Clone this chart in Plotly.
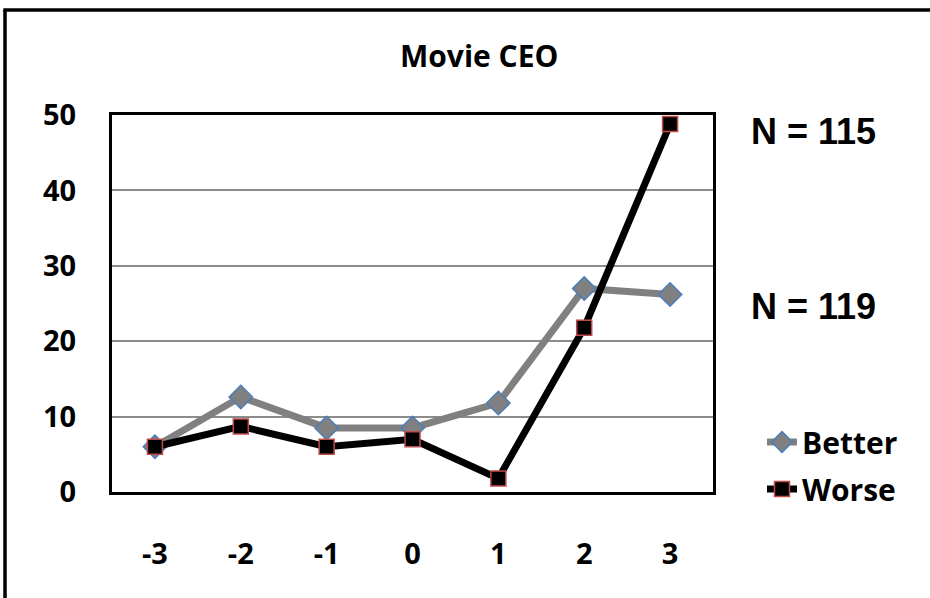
import plotly.graph_objects as go

categories = ["-3", "-2", "-1", "0", "1", "2", "3"]
better = [6.0, 12.6, 8.5, 8.5, 11.8, 27.0, 26.2]
worse = [6.0, 8.7, 6.0, 7.0, 1.8, 21.8, 48.8]
y_ticks = [0, 10, 20, 30, 40, 50]

FONT = "Open Sans"
W, H = 930, 598
L, R, T, B = 112, 713, 115, 492


def px(x):
    return (x - L) / (R - L)


def py(y):
    return (B - y) / (B - T)


fig = go.Figure()
fig.add_trace(go.Scatter(
    x=categories, y=better, name="Better", mode="lines+markers",
    line=dict(color="#808080", width=7),
    marker=dict(symbol="diamond", size=18, color="#808080",
                line=dict(color="#4a7ebb", width=1.5)),
    legendgroup="b",
))
fig.add_trace(go.Scatter(
    x=categories, y=worse, name="Worse", mode="lines+markers",
    line=dict(color="#000000", width=7),
    marker=dict(symbol="square", size=15, color="#000000",
                line=dict(color="#be4b48", width=1.5)),
    legendgroup="w",
))

fig.update_layout(
    width=W, height=H,
    margin=dict(l=L, r=W - R, t=T, b=H - B),
    paper_bgcolor="white", plot_bgcolor="white",
    font=dict(family=FONT, size=30, color="black"),
    showlegend=True,
    legend=dict(x=px(762), y=py(416), xanchor="left", yanchor="top",
                font=dict(family=FONT, size=30, color="black", weight="bold"),
                tracegroupgap=5, bgcolor="rgba(0,0,0,0)",
                traceorder="grouped"),
    xaxis=dict(type="category", range=[-0.5, 6.5], showgrid=False,
               showline=True, linecolor="black", linewidth=3, mirror=True,
               ticks="", ticklabelstandoff=34,
               tickfont=dict(family=FONT, size=29, color="black", weight="bold")),
    yaxis=dict(range=[0, 50], tickvals=y_ticks, showgrid=True,
               gridcolor="#8c8c8c", gridwidth=1.5, zeroline=False,
               showline=True, linecolor="black", linewidth=3, mirror=True,
               ticks="", ticklabelstandoff=27,
               tickfont=dict(family=FONT, size=29, color="black", weight="bold")),
)

fig.add_annotation(text="<b>Movie CEO</b>", xref="paper", yref="paper",
                   x=px(479), y=py(55), showarrow=False,
                   xanchor="center", yanchor="middle",
                   font=dict(family=FONT, size=30, color="black"))
fig.add_annotation(text="<b>N = 115</b>", xref="paper", yref="paper",
                   x=px(813), y=py(131), showarrow=False,
                   xanchor="center", yanchor="middle",
                   font=dict(family="Liberation Sans", size=36, color="black"))
fig.add_annotation(text="<b>N = 119</b>", xref="paper", yref="paper",
                   x=px(813), y=py(306), showarrow=False,
                   xanchor="center", yanchor="middle",
                   font=dict(family="Liberation Sans", size=36, color="black"))

# outer chart frame (left and top edges visible)
fig.add_shape(type="line", xref="paper", yref="paper",
              x0=px(5), x1=px(5), y0=py(598), y1=py(10),
              line=dict(color="black", width=3.5), layer="above")
fig.add_shape(type="line", xref="paper", yref="paper",
              x0=px(3.3), x1=px(930), y0=py(10), y1=py(10),
              line=dict(color="black", width=3.5), layer="above")

fig.write_html("out.html")
